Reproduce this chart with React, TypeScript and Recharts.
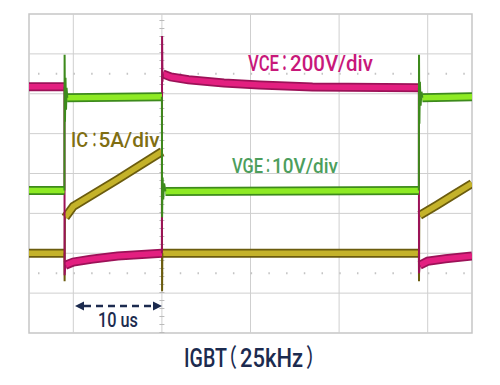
import React from "react";
import { LineChart, Line, XAxis, YAxis, ReferenceLine, ReferenceArea } from "recharts";

// time in microseconds, values in scope divisions (0 = bottom, 8 = top)
const vceBody = [
  { t: 0, v: 6.175 }, { t: 4, v: 6.175 }, { t: 4.05, v: null },
  { t: 4.1, v: 1.7 }, { t: 5, v: 1.78 }, { t: 7, v: 1.85 }, { t: 10, v: 1.93 }, { t: 15, v: 2.0 }, { t: 15.05, v: null },
  { t: 15.1, v: 6.5 }, { t: 16, v: 6.42 }, { t: 18, v: 6.35 }, { t: 22, v: 6.27 }, { t: 26, v: 6.22 }, { t: 32, v: 6.17 }, { t: 44, v: 6.15 }, { t: 44.05, v: null },
  { t: 44.1, v: 1.7 }, { t: 45, v: 1.8 }, { t: 47, v: 1.86 }, { t: 50, v: 1.93 },
];
const vceEdge = [
  { t: 4, v: 6.175 }, { t: 4.02, v: 1.45 }, { t: 4.1, v: 1.7 }, { t: 4.12, v: null },
  { t: 15, v: 2.0 }, { t: 15.02, v: 7.45 }, { t: 15.07, v: 6.3 }, { t: 15.1, v: 6.5 }, { t: 15.12, v: null },
  { t: 44, v: 6.15 }, { t: 44.02, v: 1.5 }, { t: 44.1, v: 1.7 },
];
const vgeBody = [
  { t: 0, v: 3.575 }, { t: 4, v: 3.575 }, { t: 4.1, v: null },
  { t: 4.3, v: 5.9 }, { t: 15, v: 5.925 }, { t: 15.1, v: null },
  { t: 15.4, v: 3.55 }, { t: 44, v: 3.575 }, { t: 44.1, v: null },
  { t: 44.4, v: 5.9 }, { t: 50, v: 5.925 },
];
const vgeEdge = [
  { t: 4, v: 3.575 }, { t: 4.02, v: 6.975 }, { t: 4.06, v: 5.3 }, { t: 4.12, v: 6.4 }, { t: 4.18, v: 5.6 }, { t: 4.24, v: 6.15 }, { t: 4.32, v: 5.9 }, { t: 4.35, v: null },
  { t: 15, v: 5.925 }, { t: 15.02, v: 2.9 }, { t: 15.08, v: 3.9 }, { t: 15.15, v: 3.35 }, { t: 15.25, v: 3.75 }, { t: 15.4, v: 3.55 }, { t: 15.45, v: null },
  { t: 44, v: 3.575 }, { t: 44.02, v: 6.975 }, { t: 44.06, v: 5.25 }, { t: 44.12, v: 6.3 }, { t: 44.2, v: 5.7 }, { t: 44.3, v: 6.05 }, { t: 44.4, v: 5.9 },
];
const icBody = [
  { t: 0, v: 2.0 }, { t: 4, v: 2.0 }, { t: 4.05, v: null },
  { t: 4.1, v: 2.9 }, { t: 5, v: 3.175 }, { t: 10, v: 3.85 }, { t: 15, v: 4.55 }, { t: 15.05, v: null },
  { t: 15.1, v: 2.0 }, { t: 44, v: 2.0 }, { t: 44.05, v: null },
  { t: 44.1, v: 2.95 }, { t: 46, v: 3.2 }, { t: 48, v: 3.475 }, { t: 50, v: 3.75 },
];
const icEdge = [
  { t: 4, v: 2.0 }, { t: 4.02, v: 1.3 }, { t: 4.05, v: 2.9 }, { t: 4.1, v: 2.9 }, { t: 4.12, v: null },
  { t: 15, v: 4.55 }, { t: 15.02, v: 1.05 }, { t: 15.05, v: 2.0 }, { t: 15.1, v: 2.0 }, { t: 15.12, v: null },
  { t: 44, v: 2.0 }, { t: 44.02, v: 1.3 }, { t: 44.05, v: 2.95 }, { t: 44.1, v: 2.95 },
];

const gridX = [5, 15, 25, 35, 45];
const gridY = [1, 2, 3, 4, 5, 6, 7];
const minorRows = [1.5, 6.5];

const labelVCE = ["VCE", "：", "200V/div"];
const labelIC = ["IC", "：", "5A/div"];
const labelVGE = ["VGE", "：", "10V/div"];
const labelTime = "10 us";
const caption = ["IGBT", "（", "25kHz", "）"];

const NAVY = "#1c2b4f";
const textStyle = { fontFeatureSettings: '"halt"' } as React.CSSProperties;

type Piece = { s: string; x: number; w: number };

function Label({ pieces, y, size, fill }: { pieces: Piece[]; y: number; size: number; fill: string }) {
  return (
    <>
      {pieces.map((p, i) => (
        <text key={i} x={p.x} y={y} fontSize={size} fill={fill} textLength={p.w} lengthAdjust="spacingAndGlyphs">
          {p.s}
        </text>
      ))}
    </>
  );
}

export default function App() {
  const trace = (body: any[], edge: any[], dark: string, bright: string, key: string) => [
    <Line key={key + "d"} data={body} dataKey="v" type="linear" stroke={dark} strokeWidth={9} dot={false} isAnimationActive={false} connectNulls={false} />,
    <Line key={key + "b"} data={body} dataKey="v" type="linear" stroke={bright} strokeWidth={5.5} dot={false} isAnimationActive={false} connectNulls={false} />,
    <Line key={key + "e"} data={edge} dataKey="v" type="linear" stroke={dark} strokeWidth={2} dot={false} isAnimationActive={false} connectNulls={false} />,
  ];
  return (
    <div style={{ position: "absolute", left: 0, top: 0, width: 500, height: 385, background: "#fff" }}>
      <LineChart width={500} height={385} margin={{ top: 14, right: 28, bottom: 52, left: 29 }}>
        <XAxis dataKey="t" type="number" domain={[0, 50]} hide allowDataOverflow />
        <YAxis type="number" domain={[0, 8]} hide allowDataOverflow />
        {gridX.map((x) => (
          <ReferenceLine key={"gx" + x} x={x} stroke="#cfcfcf" strokeWidth={1} />
        ))}
        {gridY.map((y) => (
          <ReferenceLine key={"gy" + y} y={y} stroke="#cfcfcf" strokeWidth={1} />
        ))}
        {minorRows.map((y) => (
          <ReferenceLine key={"mr" + y} y={y} stroke="#c4c4c4" strokeWidth={2} strokeDasharray="1.5 16.22" strokeDashoffset={-9} />
        ))}
        <ReferenceLine x={15} stroke="#bbbbbb" strokeWidth={5} strokeDasharray="1 7" />
        <ReferenceArea x1={0} x2={50} y1={0} y2={8} fill="none" fillOpacity={0} stroke="#c6c6c6" strokeWidth={1.5} />
        {trace(icBody, icEdge, "#6b5c0e", "#c4b22a", "ic")}
        {trace(vceBody, vceEdge, "#9c1258", "#e31f80", "vce")}
        {trace(vgeBody, vgeEdge, "#3d8a1c", "#8eea24", "vge")}
      </LineChart>
      <svg width={500} height={385} style={{ position: "absolute", left: 0, top: 0, pointerEvents: "none" }}>
        <g fontFamily="Roboto, 'Noto Sans CJK JP', sans-serif" fontWeight={500} style={textStyle}>
          <Label y={71} size={22.5} fill="#c8187a" pieces={[
            { s: labelVCE[0], x: 248, w: 31 },
            { s: labelVCE[1], x: 281, w: 7 },
            { s: labelVCE[2], x: 290, w: 83 },
          ]} />
          <Label y={147} size={21} fill="#7f6e12" pieces={[
            { s: labelIC[0], x: 71, w: 17 },
            { s: labelIC[1], x: 91.5, w: 6 },
            { s: labelIC[2], x: 98.5, w: 61 },
          ]} />
          <Label y={173} size={20} fill="#4c9e5c" pieces={[
            { s: labelVGE[0], x: 232, w: 31 },
            { s: labelVGE[1], x: 265, w: 6 },
            { s: labelVGE[2], x: 272, w: 66 },
          ]} />
          <text x={98} y={327} fontSize={21} fill={NAVY} textLength={40} lengthAdjust="spacingAndGlyphs">{labelTime}</text>
          <Label y={367} size={25} fill={NAVY} pieces={[
            { s: caption[0], x: 184, w: 43 },
            { s: caption[1], x: 228, w: 9 },
            { s: caption[2], x: 240, w: 63 },
            { s: caption[3], x: 306, w: 9 },
          ]} />
        </g>
        <line x1={84} y1={306} x2={153} y2={306} stroke={NAVY} strokeWidth={2.5} strokeDasharray="7 5" />
        <polygon points="75,306 84,301.5 84,310.5" fill={NAVY} />
        <polygon points="162,306 153,301.5 153,310.5" fill={NAVY} />
      </svg>
    </div>
  );
}
